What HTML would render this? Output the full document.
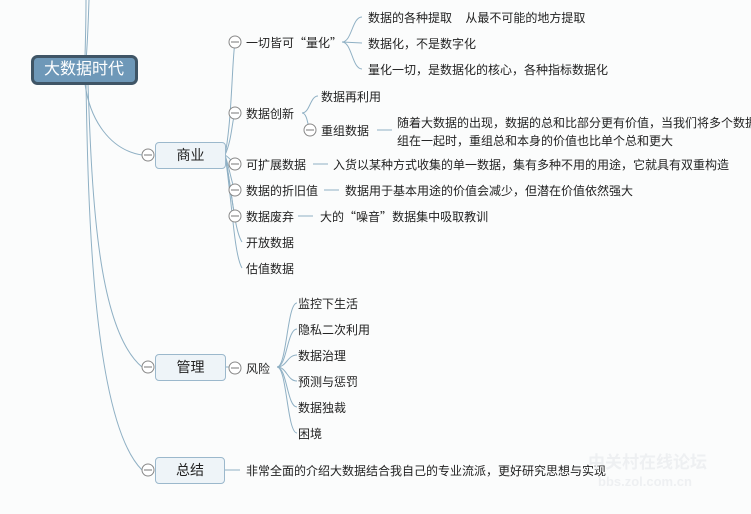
<!DOCTYPE html>
<html><head><meta charset="utf-8"><style>
html,body{margin:0;padding:0;background:#fbfcfc;}
#c{position:relative;width:751px;height:514px;overflow:hidden;font-family:"Liberation Sans","Noto Sans CJK SC",sans-serif;font-size:12px;color:#222;}
.t{position:absolute;white-space:nowrap;line-height:14px;margin-top:1px;}
.q{font-family:"Noto Sans CJK SC",sans-serif;}
.box{position:absolute;background:#eef4f8;border:1px solid #9bb8cc;border-radius:4px;text-align:center;font-size:14px;color:#222;box-sizing:border-box;}
svg{position:absolute;left:0;top:0;}
</style></head><body><div id="c">
<svg width="751" height="514">
<g fill="none" stroke="#8fb0c4" stroke-width="1">
<path d="M86 0 C86 30 85 50 85 60"/>
<path d="M89 0 C88 30 87 50 86 60"/>
<path d="M85 84 C90 120 110 150 142 155"/>
<path d="M88 84 C92 200 98 330 142 367"/>
<path d="M86 84 C88 200 92 420 142 470"/>
<path d="M225 155 C232 120 232 60 235 42"/>
<path d="M225 155 C232 140 232 120 235 113"/>
<path d="M225 155 C230 158 232 162 235 164"/>
<path d="M225 155 C230 170 232 185 235 190"/>
<path d="M225 155 C230 180 232 205 235 216"/>
<path d="M225 155 C232 190 234 230 242 242"/>
<path d="M225 155 C232 200 234 255 242 268"/>
<path d="M342 42 C352 42 352 17 362 17"/>
<path d="M342 42 L362 43"/>
<path d="M342 42 C352 42 352 69 362 69"/>
<path d="M302 113 C310 113 310 96 318 96"/>
<path d="M302 113 C308 113 308 130 310 130"/>
<path d="M377 130 L392 130"/>
<path d="M313 164 L328 164"/>
<path d="M324 190 L339 190"/>
<path d="M298 216 L313 216"/>
<path d="M225 367 L229 367"/>
<path d="M225 470 L240 470"/>
<g>
<path d="M277 367 C287 367 287 303 297 303"/>
<path d="M277 367 C287 367 287 329 297 329"/>
<path d="M277 367 C287 367 287 355 297 355"/>
<path d="M277 367 C287 367 287 381 297 381"/>
<path d="M277 367 C287 367 287 407 297 407"/>
<path d="M277 367 C287 367 287 433 297 433"/>
</g>
</g>
<g fill="#fff" stroke="#888" stroke-width="1">
<circle cx="148" cy="155" r="6"/><circle cx="148" cy="367" r="6"/><circle cx="148" cy="470" r="6"/>
<circle cx="235" cy="42" r="6"/><circle cx="235" cy="113" r="6"/><circle cx="235" cy="164" r="6"/>
<circle cx="235" cy="190" r="6"/><circle cx="235" cy="216" r="6"/><circle cx="235" cy="368" r="6"/>
<circle cx="310" cy="130" r="6"/>
</g>
<g stroke="#777" stroke-width="1">
<path d="M144 155h8M144 367h8M144 470h8M231 42h8M231 113h8M231 164h8M231 190h8M231 216h8M231 368h8M306 130h8"/>
</g>
<rect x="32.5" y="56.5" width="104" height="27" rx="5" fill="#6e98b8" stroke="#3f5566" stroke-width="3"/>
</svg>
<div class="t" style="left:32px;top:60px;width:104px;text-align:center;color:#fff;font-size:16px;line-height:18px;">大数据时代</div>
<div class="box" style="left:155px;top:142px;width:71px;height:27px;line-height:25px;">商业</div>
<div class="box" style="left:155px;top:354px;width:71px;height:27px;line-height:25px;">管理</div>
<div class="box" style="left:155px;top:457px;width:70px;height:27px;line-height:25px;">总结</div>
<div class="t" style="left:246px;top:35px">一切皆可<span class="q">“</span>量化<span class="q">”</span></div>
<div class="t" style="left:368px;top:10px">数据的各种提取&nbsp;&nbsp;&nbsp;&nbsp;从最不可能的地方提取</div>
<div class="t" style="left:368px;top:36px">数据化，不是数字化</div>
<div class="t" style="left:368px;top:62px">量化一切，是数据化的核心，各种指标数据化</div>
<div class="t" style="left:246px;top:106px">数据创新</div>
<div class="t" style="left:321px;top:89px">数据再利用</div>
<div class="t" style="left:321px;top:123px">重组数据</div>
<div class="t" style="left:397px;top:115px">随着大数据的出现，数据的总和比部分更有价值，当我们将多个数据</div>
<div class="t" style="left:397px;top:133px">组在一起时，重组总和本身的价值也比单个总和更大</div>
<div class="t" style="left:246px;top:157px">可扩展数据</div>
<div class="t" style="left:333px;top:157px">入货以某种方式收集的单一数据，集有多种不用的用途，它就具有双重构造</div>
<div class="t" style="left:246px;top:183px">数据的折旧值</div>
<div class="t" style="left:345px;top:183px">数据用于基本用途的价值会减少，但潜在价值依然强大</div>
<div class="t" style="left:246px;top:209px">数据废弃</div>
<div class="t" style="left:320px;top:209px">大的<span class="q">“</span>噪音<span class="q">”</span>数据集中吸取教训</div>
<div class="t" style="left:246px;top:235px">开放数据</div>
<div class="t" style="left:246px;top:261px">估值数据</div>
<div class="t" style="left:246px;top:361px">风险</div>
<div class="t" style="left:298px;top:296px">监控下生活</div>
<div class="t" style="left:298px;top:322px">隐私二次利用</div>
<div class="t" style="left:298px;top:348px">数据治理</div>
<div class="t" style="left:298px;top:374px">预测与惩罚</div>
<div class="t" style="left:298px;top:400px">数据独裁</div>
<div class="t" style="left:298px;top:426px">困境</div>
<div class="t" style="left:246px;top:463px">非常全面的介绍大数据结合我自己的专业流派，更好研究思想与实现</div>
<div class="t" style="left:588px;top:452px;font-size:17px;line-height:20px;color:#eef0f2;font-weight:bold;">中关村在线论坛</div>
<div class="t" style="left:598px;top:474px;font-size:13px;color:#eef0f2;font-weight:bold;">bbs.zol.com.cn</div>
</div></body></html>
